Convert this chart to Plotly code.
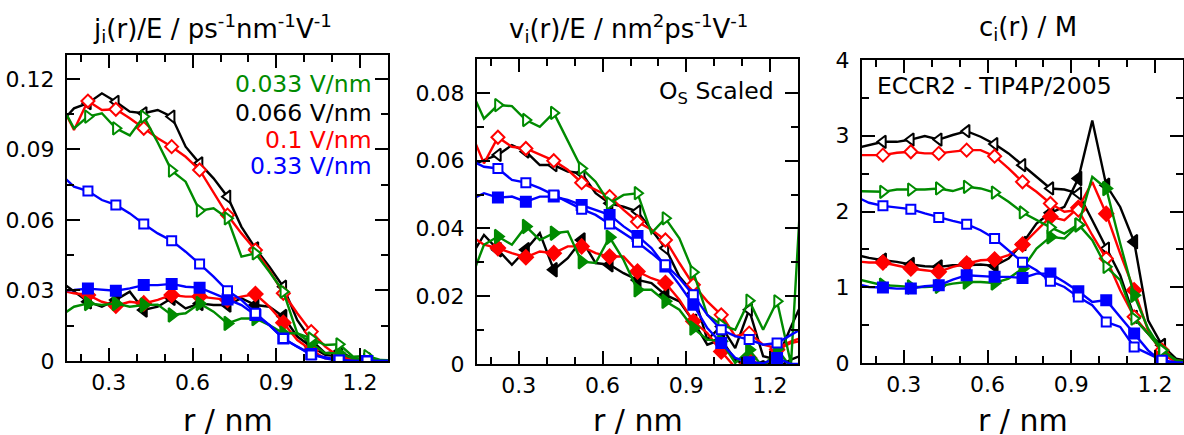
import plotly.graph_objects as go

# ---------------- data ----------------
R = [0.125, 0.175, 0.225, 0.275, 0.325, 0.375, 0.425, 0.475, 0.525, 0.575,
     0.625, 0.675, 0.725, 0.775, 0.825, 0.875, 0.925, 0.975, 1.025, 1.075,
     1.125, 1.175, 1.225, 1.275, 1.325]

FIELDS = ["0.033 V/nm", "0.066 V/nm", "0.1 V/nm", "0.33 V/nm"]

# panel 1: j_i(r)/E
j_g_open = [0.110, 0.099, 0.104, 0.1054, 0.099, 0.096, 0.104, 0.093, 0.081, 0.0763, 0.0640, 0.065, 0.0607, 0.0444, 0.0458, 0.038, 0.0295, 0.0118, 0.0096, 0.0068, 0.0071, 0.0018, 0.0021, 0.0004, 0.0002]
j_k_open = [0.101, 0.1075, 0.1097, 0.1139, 0.1103, 0.1061, 0.1054, 0.1068, 0.104, 0.0912, 0.0841, 0.0777, 0.0699, 0.0571, 0.0479, 0.0401, 0.0316, 0.0174, 0.0089, 0.0033, 0.004, 0.0011, 0.0004, 0.0002, 0.0001]
j_r_open = [0.110, 0.0983, 0.1106, 0.1068, 0.1071, 0.1033, 0.099, 0.0948, 0.0912, 0.0869, 0.0813, 0.0714, 0.0621, 0.0543, 0.0472, 0.0387, 0.0288, 0.0203, 0.0125, 0.0061, 0.0018, 0.0006, 0.0002, 0.0001, 0.0]
j_b_open = [0.0798, 0.0742, 0.0723, 0.0685, 0.0664, 0.0628, 0.0583, 0.0543, 0.0512, 0.0465, 0.0413, 0.0359, 0.0299, 0.026, 0.0203, 0.0153, 0.0096, 0.0061, 0.0026, 0.0016, 0.0004, 0.0001, 0.0, 0.0, 0.0]
j_g_fill = [0.019, 0.0231, 0.0245, 0.0238, 0.0245, 0.0231, 0.0238, 0.024, 0.0196, 0.0203, 0.0245, 0.021, 0.016, 0.0181, 0.0181, 0.0153, 0.0118, 0.0118, 0.0075, 0.0033, 0.0033, 0.0011, 0.0004, 0.0001, 0.0]
j_k_fill = [0.034, 0.0295, 0.0252, 0.0231, 0.026, 0.0295, 0.0217, 0.0231, 0.0267, 0.0224, 0.0245, 0.0238, 0.0238, 0.0267, 0.0238, 0.0231, 0.0189, 0.0104, 0.0061, 0.0026, 0.0018, 0.0011, 0.0004, 0.0001, 0.0]
j_r_fill = [0.030, 0.0288, 0.0281, 0.0252, 0.0235, 0.0252, 0.0245, 0.026, 0.0281, 0.0274, 0.0274, 0.0267, 0.026, 0.0274, 0.0285, 0.0231, 0.0163, 0.0089, 0.0047, 0.0011, 0.0004, 0.0, 0.0, 0.0, 0.0]
j_b_fill = [0.030, 0.0302, 0.0308, 0.0303, 0.0299, 0.0309, 0.0323, 0.0323, 0.0328, 0.0316, 0.0312, 0.0288, 0.0262, 0.0238, 0.0196, 0.0153, 0.0096, 0.0061, 0.003, 0.0011, 0.0001, 0.0, 0.0, 0.0, 0.0]

# panel 2: v_i(r)/E
v_g_open = [0.0814, 0.0724, 0.0764, 0.0761, 0.072, 0.070, 0.0741, 0.066, 0.0577, 0.0538, 0.0474, 0.0499, 0.0504, 0.0386, 0.043, 0.0371, 0.0271, 0.0145, 0.0116, 0.0101, 0.0187, 0.0101, 0.0185, 0.0, 0.072]
v_k_open = [0.0582, 0.0602, 0.0617, 0.0646, 0.0627, 0.0587, 0.0587, 0.0568, 0.0563, 0.0504, 0.0474, 0.0464, 0.045, 0.0396, 0.0342, 0.0258, 0.0209, 0.0072, 0.0111, 0.0047, 0.016, 0.0023, 0.0013, 0.011, 0.02]
v_r_open = [0.069, 0.0592, 0.0669, 0.0641, 0.0636, 0.0617, 0.060, 0.0573, 0.0535, 0.0514, 0.0494, 0.0455, 0.042, 0.0396, 0.0366, 0.0298, 0.0234, 0.0185, 0.0145, 0.0082, 0.0091, 0.0057, 0.0047, 0.0067, 0.008]
v_b_open = [0.0602, 0.0582, 0.0577, 0.0543, 0.0535, 0.0519, 0.0499, 0.0479, 0.0457, 0.044, 0.0413, 0.0386, 0.0359, 0.0327, 0.0293, 0.0253, 0.0204, 0.0145, 0.0101, 0.0082, 0.0072, 0.0057, 0.0062, 0.0086, 0.011]
v_g_fill = [0.0244, 0.0352, 0.0376, 0.0352, 0.0406, 0.0366, 0.0386, 0.0391, 0.0302, 0.0298, 0.0374, 0.0307, 0.0219, 0.0219, 0.0185, 0.016, 0.0106, 0.0072, 0.0067, 0.0003, 0.0042, -0.001, 0.0044, -0.001, -0.002]
v_k_fill = [0.0313, 0.0381, 0.0337, 0.0293, 0.0337, 0.0386, 0.0278, 0.0312, 0.0366, 0.0298, 0.0293, 0.0268, 0.0248, 0.0239, 0.0204, 0.0185, 0.0126, 0.0057, 0.0072, 0.0013, -0.001, 0.0008, -0.001, 0.0013, 0.003]
v_r_fill = [0.038, 0.0352, 0.0342, 0.0327, 0.0315, 0.0332, 0.0327, 0.0347, 0.0347, 0.0327, 0.0317, 0.0317, 0.0273, 0.0253, 0.0239, 0.019, 0.0126, 0.0091, 0.0037, -0.001, 0.0018, -0.001, 0.0042, 0.0062, 0.007]
v_b_fill = [0.0484, 0.0504, 0.0491, 0.0494, 0.0479, 0.0494, 0.0494, 0.0484, 0.0469, 0.0455, 0.044, 0.0406, 0.0378, 0.0342, 0.0288, 0.0234, 0.0175, 0.0106, 0.0062, 0.0018, 0.0005, 0.0002, 0.0018, 0.0, 0.0]

# panel 3: c_i(r)
c_g_open = [2.269, 2.269, 2.26, 2.29, 2.29, 2.29, 2.304, 2.27, 2.326, 2.304, 2.25, 2.128, 1.987, 1.885, 1.79, 1.709, 1.83, 1.621, 1.269, 1.093, 0.586, 0.388, 0.167, 0.035, 0.01]
c_k_open = [2.833, 2.877, 2.92, 2.92, 2.95, 2.996, 2.95, 3.01, 3.06, 2.987, 2.89, 2.767, 2.612, 2.458, 2.304, 2.29, 2.238, 1.885, 1.511, 1.159, 0.608, 0.388, 0.233, 0.057, 0.02]
c_r_open = [2.744, 2.744, 2.744, 2.775, 2.789, 2.767, 2.767, 2.79, 2.81, 2.81, 2.73, 2.568, 2.392, 2.26, 2.106, 1.996, 2.02, 1.687, 1.38, 0.96, 0.61, 0.39, 0.17, 0.035, 0.01]
c_b_open = [2.203, 2.115, 2.075, 2.053, 2.031, 1.974, 1.921, 1.877, 1.833, 1.753, 1.643, 1.489, 1.33, 1.225, 1.08, 1.004, 0.87, 0.762, 0.542, 0.476, 0.211, 0.123, 0.035, 0.01, 0.0]
c_g_fill = [1.115, 1.07, 1.026, 1.018, 1.004, 1.004, 1.013, 1.048, 1.07, 1.07, 1.057, 1.115, 1.247, 1.51, 1.665, 1.643, 1.82, 2.458, 2.304, 1.577, 0.894, 0.454, 0.167, 0.035, 0.0]
c_k_fill = [1.432, 1.388, 1.357, 1.335, 1.3, 1.278, 1.269, 1.29, 1.29, 1.3, 1.282, 1.379, 1.577, 1.841, 1.982, 2.062, 2.436, 3.2, 2.348, 2.06, 1.6, 0.564, 0.233, 0.035, 0.0]
c_r_fill = [1.344, 1.326, 1.326, 1.291, 1.247, 1.225, 1.203, 1.269, 1.313, 1.357, 1.366, 1.423, 1.564, 1.75, 1.93, 1.885, 2.05, 2.39, 1.97, 1.445, 0.96, 0.43, 0.12, 0.01, 0.0]
c_b_fill = [1.048, 1.004, 0.996, 0.982, 0.982, 1.013, 1.026, 1.1, 1.159, 1.145, 1.137, 1.137, 1.123, 1.18, 1.18, 1.07, 0.947, 0.806, 0.83, 0.608, 0.388, 0.167, 0.013, 0.0, 0.0]

X_TICKS = [0.3, 0.6, 0.9, 1.2]
X_TICKTEXT = ["0.3", "0.6", "0.9", "1.2"]

# ---------------- style ----------------
W, H = 1184, 435
FONT = "DejaVu Sans, Liberation Sans, Arial, sans-serif"
COL = {"g": "rgb(0,139,0)", "k": "black", "r": "red", "b": "blue"}
SYM = {"g": "triangle-right", "k": "triangle-left", "r": "diamond", "b": "square"}
MSIZE = {"g": 11, "k": 11, "r": 10, "b": 9}

panels = [
    dict(series={"k": (j_k_open, j_k_fill), "r": (j_r_open, j_r_fill),
                 "g": (j_g_open, j_g_fill), "b": (j_b_open, j_b_fill)},
         px=(67, 388), py=(55, 361), yrange=[0, 0.1302], dtick=0.03, minor=0.015),
    dict(series={"k": (v_k_open, v_k_fill), "r": (v_r_open, v_r_fill),
                 "g": (v_g_open, v_g_fill), "b": (v_b_open, v_b_fill)},
         px=(477, 798), py=(59, 364), yrange=[0, 0.09], dtick=0.02, minor=0.01),
    dict(series={"k": (c_k_open, c_k_fill), "r": (c_r_open, c_r_fill),
                 "g": (c_g_open, c_g_fill), "b": (c_b_open, c_b_fill)},
         px=(862, 1183), py=(60, 363), yrange=[0, 4], dtick=1, minor=0.5),
]

fig = go.Figure()
mk = slice(2, 23, 2)

for i, p in enumerate(panels):
    n = "" if i == 0 else str(i + 1)
    xa, ya = "x" + n, "y" + n
    for key in ["k", "r", "g", "b"]:
        opn, fil = p["series"][key]
        for vals, filled in ((fil, True), (opn, False)):
            fig.add_trace(go.Scatter(x=R, y=vals, mode="lines", xaxis=xa, yaxis=ya,
                                     line=dict(color=COL[key], width=2.4),
                                     showlegend=False, hoverinfo="skip"))
            fig.add_trace(go.Scatter(
                x=R[mk], y=vals[mk], mode="markers", xaxis=xa, yaxis=ya,
                marker=dict(symbol=SYM[key], size=MSIZE[key] + (1 if filled else 0),
                            color=COL[key] if filled else "white",
                            line=dict(color=COL[key], width=2)),
                showlegend=False, hoverinfo="skip"))

    axcommon = dict(showline=True, linewidth=2, linecolor="black", mirror="ticks",
                    ticks="inside", ticklen=13, tickwidth=2, tickcolor="black",
                    showgrid=False, zeroline=False, automargin=False,
                    tickfont=dict(family=FONT, size=22, color="black"))
    fig.layout["xaxis" + n] = dict(
        domain=[p["px"][0] / W, p["px"][1] / W], anchor=ya, range=[0.15, 1.3],
        tickmode="array", tickvals=X_TICKS, ticktext=X_TICKTEXT,
        minor=dict(dtick=0.1, tick0=0, ticks="inside", ticklen=7, tickwidth=2,
                   tickcolor="black", showgrid=False),
        ticklabelstandoff=1, **axcommon)
    fig.layout["yaxis" + n] = dict(
        domain=[1 - p["py"][1] / H, 1 - p["py"][0] / H], anchor=xa,
        range=p["yrange"], dtick=p["dtick"], tick0=0,
        minor=dict(dtick=p["minor"], tick0=0, ticks="inside", ticklen=7, tickwidth=2,
                   tickcolor="black", showgrid=False),
        ticklabelstandoff=6, **axcommon)

ann = []


def add_text(text, x, y, size, color="black", xanchor="center", yanchor="middle"):
    ann.append(dict(text=text, x=x / W, y=1 - y / H, xref="paper", yref="paper",
                    showarrow=False, xanchor=xanchor, yanchor=yanchor,
                    font=dict(family=FONT, size=size, color=color)))


add_text("j<sub>i</sub>(r)/E / ps<sup>-1</sup>nm<sup>-1</sup>V<sup>-1</sup>", 212, 29, 26)
add_text("v<sub>i</sub>(r)/E / nm<sup>2</sup>ps<sup>-1</sup>V<sup>-1</sup>", 628, 29, 26)
add_text("c<sub>i</sub>(r) / M", 1028, 29, 26)
for cx in (228, 638, 1023):
    add_text("r / nm", cx, 420, 30)

leg_y = [84, 113, 140, 165.5]
leg_c = [COL["g"], COL["k"], COL["r"], COL["b"]]
for t, yy, c in zip(FIELDS, leg_y, leg_c):
    add_text(t, 374, yy, 23.5, color=c, xanchor="right")

add_text("O<sub>S</sub> Scaled", 776, 92, 23.5, xanchor="right")
add_text("ECCR2 - TIP4P/2005", 875, 86, 23.5, xanchor="left")

fig.update_layout(width=W, height=H,
                  margin=dict(l=0, r=0, t=0, b=0, pad=0, autoexpand=False),
                  paper_bgcolor="white", plot_bgcolor="white",
                  annotations=ann, showlegend=False)

fig.write_html("out.html", config={"displayModeBar": False},
               post_script="document.body.style.margin='0';document.body.style.padding='0';")
